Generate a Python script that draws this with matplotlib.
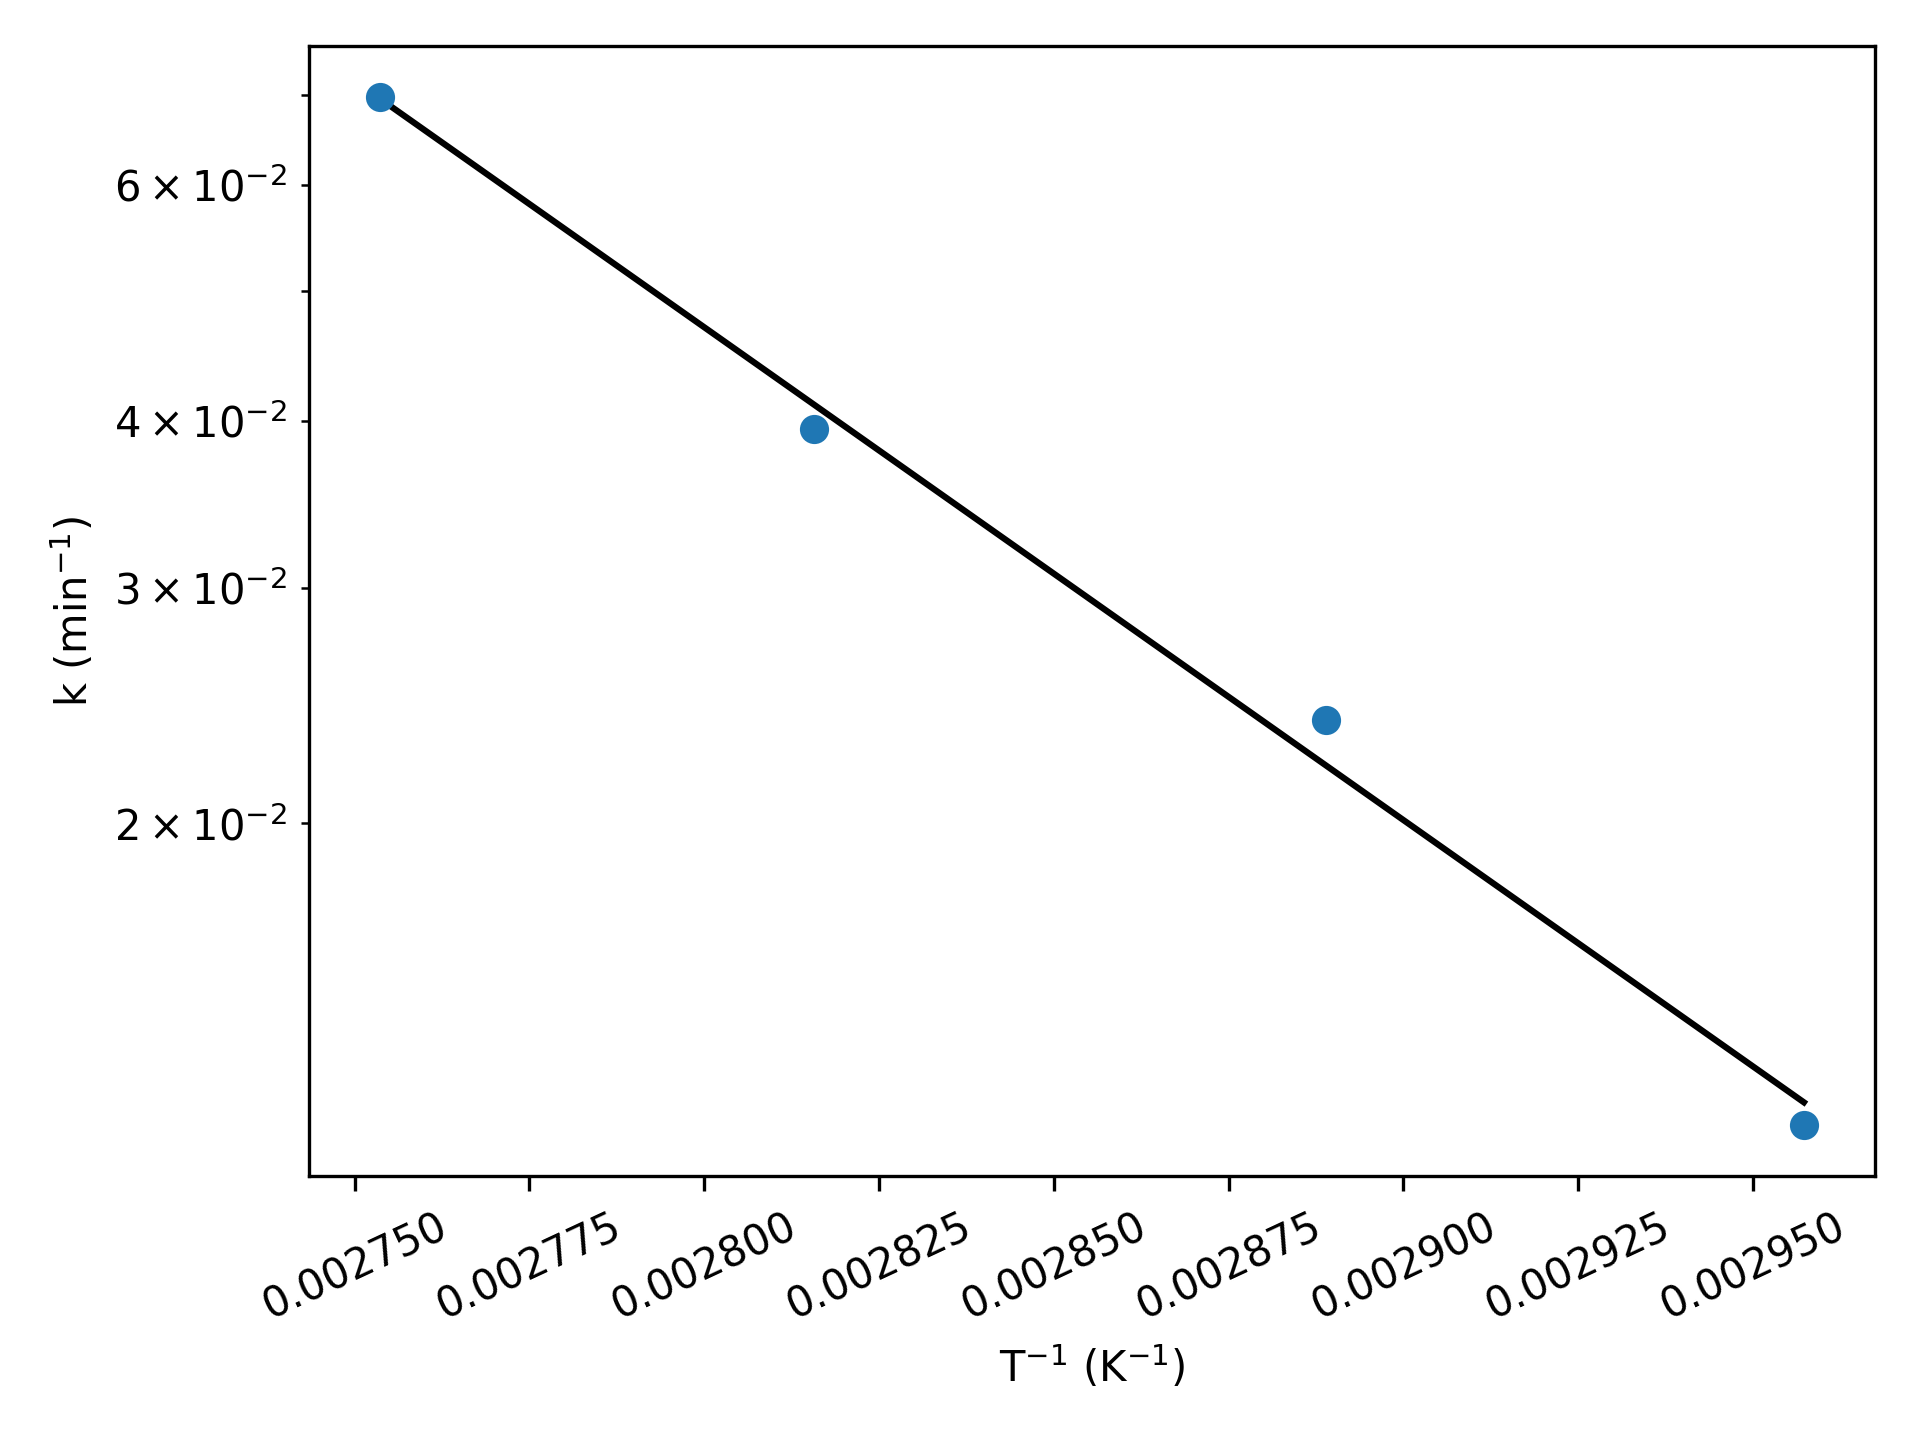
import numpy as np
import matplotlib
matplotlib.use('Agg')
import matplotlib.pyplot as plt

# temperaturas (C) e constantes de velocidade k (1/min)
temp_c = [90, 82, 73, 65]
k_vals = [0.0698, 0.0394, 0.0239, 0.0119]

inv_t = 1.0 / (np.array(temp_c) + 273.15)
k = np.array(k_vals)

# ajuste de Arrhenius: ln k vs 1/T
coef = np.polyfit(inv_t, np.log(k), 1)
k_fit = np.exp(np.polyval(coef, inv_t))

fig, ax = plt.subplots(figsize=(6.4, 4.8), dpi=300)
ax.scatter(inv_t, k, color='C0', zorder=2)
ax.plot(inv_t, k_fit, color='black', zorder=1)
ax.set_yscale('log')

ax.set_xlabel('T$^{-1}$ (K$^{-1}$)')
ax.set_ylabel('k (min$^{-1}$)')
plt.xticks(rotation=25)

fig.subplots_adjust(left=0.161, right=0.9766, bottom=0.183, top=0.9683)
plt.savefig('out.png')
